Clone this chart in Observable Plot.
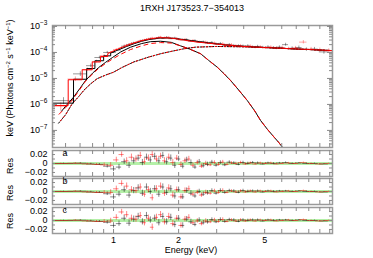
<!DOCTYPE html>
<html><head><meta charset="utf-8">
<script src="https://cdn.jsdelivr.net/npm/d3@7"></script>
<script src="https://cdn.jsdelivr.net/npm/@observablehq/plot@0.6"></script>
<style>
body{margin:0;background:#fff;}
#c{position:relative;width:373px;height:258px;font-family:"Liberation Sans",Arial,sans-serif;overflow:hidden;background:#fff;}
#c svg{position:absolute;left:0;}
.lbl{position:absolute;font-size:9px;white-space:nowrap;color:#000;line-height:1;}
.rot{transform:translate(-50%,-50%) rotate(-90deg);}
.ctr{transform:translate(-50%,-50%);}
sup{font-size:6px;vertical-align:0;position:relative;top:-3.5px;}
</style></head><body><div id="c"></div>
<script>
// ---------- tick values ----------
const xTickVals = [0.6,0.7,0.8,0.9,1,2,3,4,5,6,7,8,9,10];
const xLabelVals = [1,2,5];
const yMajor = [1e-7,1e-6,1e-5,1e-4,1e-3];
const yMinorMult = [2,3,4,5,6,7,8,9];
const resTicks = [-0.02,-0.01,0,0.01,0.02];
const resLabels = [-0.02,0,0.02];
const panelLetters = ["a","b","c"];

// ---------- black dataset ----------
const blackE = [0.587,0.702,0.785,0.86,0.935,
  1.0,1.06,1.12,1.18,1.24,
  1.30,1.36,1.42,1.48,1.55,
  1.62,1.69,1.76,1.84,1.92,
  2.0,2.09,2.18,2.28,2.38,
  2.49,2.6,2.72,2.85,2.98,
  3.12,3.27,3.43,3.6,3.78,
  3.97,4.18,4.4,4.64,4.9,
  5.18,5.5,5.85,6.25,6.7,
  7.2,7.8,8.5,9.4];
const blackHW = [0.066,0.049,0.035,0.04,0.035,
  0.03,0.03,0.03,0.03,0.03,
  0.03,0.03,0.03,0.03,0.035,
  0.035,0.035,0.04,0.04,0.04,
  0.045,0.045,0.05,0.05,0.05,
  0.055,0.055,0.06,0.065,0.065,
  0.07,0.075,0.08,0.085,0.09,
  0.1,0.11,0.11,0.12,0.13,
  0.15,0.16,0.18,0.2,0.22,
  0.25,0.3,0.35,0.45];
const blackV = [1.4e-6,1.5e-5,3.1e-5,6.4e-5,1.0e-4,
  1.0e-4,1.25e-4,1.75e-4,2.0e-4,2.3e-4,
  2.5e-4,2.85e-4,3.1e-4,3.3e-4,3.3e-4,
  3.7e-4,3.5e-4,3.8e-4,3.4e-4,3.6e-4,
  3.2e-4,3.05e-4,3.1e-4,2.7e-4,2.85e-4,
  2.5e-4,2.55e-4,2.3e-4,2.4e-4,2.1e-4,
  2.2e-4,1.9e-4,2.0e-4,1.85e-4,1.8e-4,
  1.75e-4,1.8e-4,1.6e-4,1.7e-4,1.55e-4,
  1.62e-4,1.5e-4,1.6e-4,2.0e-4,1.45e-4,
  1.55e-4,1.3e-4,1.35e-4,1.05e-4];
const blackErr = [0.3,0.2,0.15,0.12,0.1,
  0.09,0.09,0.08,0.08,0.08,
  0.07,0.07,0.07,0.07,0.07,
  0.07,0.07,0.07,0.07,0.07,
  0.07,0.07,0.08,0.08,0.08,
  0.08,0.08,0.09,0.09,0.09,
  0.09,0.1,0.1,0.1,0.1,
  0.1,0.1,0.11,0.11,0.11,
  0.12,0.12,0.12,0.13,0.13,
  0.14,0.15,0.16,0.18];
const blackResErr = [0.0008,0.0012,0.0015,0.002,0.004,
  0.006,0.006,0.006,0.007,0.007,
  0.007,0.007,0.007,0.007,0.007,
  0.007,0.007,0.007,0.007,0.007,
  0.006,0.006,0.006,0.006,0.005,
  0.005,0.005,0.005,0.004,0.004,
  0.004,0.004,0.003,0.003,0.003,
  0.003,0.003,0.0025,0.0025,0.002,
  0.002,0.002,0.0015,0.0015,0.0015,
  0.0012,0.0012,0.001,0.001];
const blackResA = [0.0,0.0005,-0.001,-0.002,-0.006,
  -0.012,-0.008,0.004,-0.004,0.006,
  0.012,0.002,0.014,0.008,0.016,
  0.006,0.018,0.004,0.012,-0.004,
  0.01,-0.006,0.008,0.002,-0.008,
  0.004,-0.005,-0.002,0.003,-0.004,
  0.002,-0.003,0.003,0.001,-0.002,
  0.002,0.0,0.002,0.001,-0.001,
  0.001,0.0,0.001,0.002,0.0,
  0.001,0.0,0.0,-0.001];
const blackResB = [0.0,0.0005,-0.001,-0.002,-0.005,
  -0.012,-0.006,0.004,-0.008,0.002,
  0.008,-0.004,0.01,0.0,0.006,
  -0.006,0.01,-0.002,0.006,-0.01,
  0.004,-0.012,0.002,-0.004,-0.01,
  0.0,-0.006,-0.003,0.002,-0.004,
  0.002,-0.002,0.002,0.001,-0.002,
  0.002,0.0,0.001,0.001,-0.001,
  0.001,0.0,0.001,0.001,0.0,
  0.001,0.0,0.0,-0.001];
const blackResC = [0.0,0.0005,-0.001,-0.002,-0.004,
  -0.011,-0.007,0.005,-0.006,0.003,
  0.009,-0.003,0.011,0.001,0.005,
  -0.005,0.009,-0.003,0.007,-0.009,
  0.005,-0.011,0.003,-0.003,-0.009,
  0.001,-0.005,-0.003,0.002,-0.003,
  0.002,-0.002,0.002,0.001,-0.002,
  0.001,0.0,0.001,0.001,-0.001,
  0.001,0.0,0.001,0.001,0.0,
  0.001,0.0,0.0,-0.001];

// ---------- red dataset ----------
const redE = [0.57,0.666,0.756,0.834,0.905,
  0.97,1.03,1.09,1.15,1.21,
  1.27,1.33,1.39,1.45,1.51,
  1.58,1.65,1.72,1.8,1.88,
  1.96,2.05,2.14,2.23,2.33,
  2.44,2.55,2.67,2.8,2.93,
  3.06,3.2,3.35,3.51,3.68,
  3.87,4.07,4.29,4.52,4.77,
  5.04,5.34,5.67,6.03,6.45,
  6.95,7.55,8.2,9.0,9.9];
const redHW = [0.048,0.05,0.04,0.037,0.035,
  0.03,0.03,0.03,0.03,0.03,
  0.03,0.03,0.03,0.03,0.03,
  0.035,0.035,0.035,0.04,0.04,
  0.04,0.045,0.045,0.045,0.05,
  0.055,0.055,0.06,0.065,0.065,
  0.065,0.07,0.075,0.08,0.085,
  0.095,0.1,0.11,0.115,0.125,
  0.135,0.15,0.165,0.18,0.2,
  0.25,0.3,0.32,0.4,0.45];
const redV = [8.5e-7,9.5e-6,2.2e-5,4.5e-5,7.5e-5,
  1.0e-4,1.3e-4,1.5e-4,1.9e-4,2.2e-4,
  2.4e-4,2.8e-4,3.0e-4,3.3e-4,3.6e-4,
  3.5e-4,3.9e-4,3.6e-4,3.8e-4,3.4e-4,
  3.5e-4,3.0e-4,3.2e-4,2.8e-4,2.9e-4,
  2.6e-4,2.45e-4,2.5e-4,2.25e-4,2.3e-4,
  2.05e-4,2.15e-4,1.9e-4,2.0e-4,1.8e-4,
  1.85e-4,1.65e-4,1.75e-4,1.55e-4,1.65e-4,
  1.5e-4,1.6e-4,1.45e-4,1.55e-4,1.4e-4,
  1.5e-4,2.5e-4,1.35e-4,1.25e-4,1.15e-4];
const redErr = [0.35,0.2,0.15,0.12,0.1,
  0.09,0.09,0.08,0.08,0.08,
  0.07,0.07,0.07,0.07,0.07,
  0.07,0.07,0.07,0.07,0.07,
  0.07,0.07,0.08,0.08,0.08,
  0.08,0.08,0.09,0.09,0.09,
  0.09,0.1,0.1,0.1,0.1,
  0.1,0.1,0.11,0.11,0.11,
  0.12,0.12,0.12,0.13,0.13,
  0.14,0.15,0.16,0.18,0.2];
const redResErr = [0.0008,0.0012,0.0015,0.002,0.004,
  0.006,0.006,0.006,0.007,0.007,
  0.007,0.007,0.007,0.007,0.007,
  0.007,0.007,0.007,0.007,0.007,
  0.006,0.006,0.006,0.006,0.005,
  0.005,0.005,0.005,0.004,0.004,
  0.004,0.004,0.003,0.003,0.003,
  0.003,0.003,0.0025,0.0025,0.002,
  0.002,0.002,0.0015,0.0015,0.0015,
  0.0012,0.0012,0.001,0.001,0.001];
const redResA = [0.0,0.0005,-0.001,-0.002,-0.003,
  -0.004,0.008,0.02,0.006,0.014,
  0.01,0.018,0.004,0.012,0.02,
  0.01,0.016,0.006,0.014,0.002,
  0.012,-0.002,0.006,0.01,-0.004,
  0.002,-0.006,0.0,-0.003,0.002,
  -0.002,0.003,-0.002,0.001,0.0,
  0.002,-0.001,0.001,-0.001,0.001,
  0.0,0.001,-0.001,0.0,0.001,
  0.0,0.002,0.0,-0.001,0.0];
const redResB = [0.0,0.0005,-0.001,-0.002,-0.002,
  -0.002,0.006,0.018,0.012,0.004,
  0.002,0.01,-0.006,0.004,-0.014,
  0.006,0.012,-0.004,0.008,-0.008,
  0.004,-0.012,0.002,0.006,-0.006,
  -0.002,-0.008,-0.002,-0.004,0.001,
  -0.002,0.002,-0.002,0.001,-0.001,
  0.001,-0.001,0.001,-0.001,0.001,
  0.0,0.001,-0.001,0.0,0.001,
  0.0,0.002,0.0,-0.001,0.0];
const redResC = [0.0,0.0005,-0.001,-0.002,-0.002,
  -0.001,0.007,0.019,0.013,0.005,
  0.003,0.011,-0.005,0.005,-0.015,
  0.007,0.013,-0.003,0.009,-0.007,
  0.005,-0.011,0.003,0.007,-0.005,
  -0.001,-0.007,-0.001,-0.003,0.001,
  -0.002,0.002,-0.002,0.001,-0.001,
  0.001,-0.001,0.001,-0.001,0.001,
  0.0,0.001,-0.001,0.0,0.001,
  0.0,0.002,0.0,-0.001,0.0];

// ---------- model curves ----------
const totBlackE = [0.522,0.653,0.653,0.751,0.751,0.82,0.82,0.90,0.90,0.97,0.97,
  1.05,1.15,1.25,1.35,1.45,1.55,1.65,1.8,1.95,2.1,2.3,2.5,2.75,3.0,3.3,3.7,4.2,5,6,7,8,9,10.3];
const totBlackV = [1.12e-6,1.12e-6,9.3e-6,9.3e-6,2.4e-5,2.4e-5,4.8e-5,4.8e-5,7.4e-5,7.4e-5,9.5e-5,
  1.25e-4,1.7e-4,2.2e-4,2.7e-4,3.1e-4,3.4e-4,3.6e-4,3.6e-4,3.4e-4,3.15e-4,2.85e-4,2.6e-4,2.35e-4,2.15e-4,1.95e-4,1.8e-4,1.68e-4,1.55e-4,1.45e-4,1.35e-4,1.3e-4,1.23e-4,1.18e-4];
const totRedE = [0.522,0.617,0.617,0.716,0.716,0.797,0.797,0.87,0.87,0.94,0.94,
  1.0,1.1,1.2,1.3,1.4,1.5,1.6,1.7,1.85,2.0,2.2,2.4,2.7,3.0,3.4,3.8,4.3,5,6,7,8,9,10.3];
const totRedV = [9.1e-7,9.1e-7,8.9e-6,8.9e-6,2.15e-5,2.15e-5,4.3e-5,4.3e-5,7.0e-5,7.0e-5,9.0e-5,
  1.15e-4,1.6e-4,2.1e-4,2.6e-4,3.05e-4,3.4e-4,3.65e-4,3.7e-4,3.55e-4,3.25e-4,2.85e-4,2.55e-4,2.3e-4,2.1e-4,1.9e-4,1.75e-4,1.65e-4,1.55e-4,1.45e-4,1.36e-4,1.3e-4,1.24e-4,1.18e-4];
const bbBlackE = [0.575,0.6,0.653,0.70,0.742,0.80,0.852,0.92,0.989,1.08,1.2,1.35,1.48,1.65,1.85,2.04,2.25,2.53,2.75,3.02,3.25,3.48,3.8,4.16,4.5,4.79,5.15,5.53,5.8,6.03,6.3];
const bbBlackV = [5.5e-7,8.5e-7,1.9e-6,4.2e-6,8.3e-6,1.6e-5,2.6e-5,4.2e-5,6.4e-5,1.05e-4,1.6e-4,2.2e-4,2.6e-4,2.7e-4,2.45e-4,1.8e-4,1.35e-4,8.9e-5,5e-5,2.7e-5,1.5e-5,8.3e-6,3.5e-6,1.4e-6,5.6e-7,2.4e-7,1.1e-7,5.5e-8,3.5e-8,2.3e-8,1.4e-8];
const bbRedE = [0.56,0.6,0.653,0.70,0.742,0.80,0.852,0.92,0.989,1.08,1.2,1.35,1.48,1.65,1.85,2.04,2.25,2.53,2.75,3.02,3.25,3.48,3.8,4.16,4.5,4.79,5.15,5.53,5.8,6.03,6.3];
const bbRedV = [4.2e-7,7.5e-7,1.7e-6,3.9e-6,7.8e-6,1.5e-5,2.4e-5,3.8e-5,5.6e-5,8.5e-5,1.3e-4,1.8e-4,2.2e-4,2.4e-4,2.3e-4,1.8e-4,1.35e-4,8.9e-5,5e-5,2.7e-5,1.5e-5,8.3e-6,3.5e-6,1.4e-6,5.6e-7,2.4e-7,1.1e-7,5.5e-8,3.5e-8,2.3e-8,1.4e-8];
const plE = [0.557,0.6,0.644,0.69,0.729,0.78,0.84,0.92,1.0,1.1,1.24,1.45,1.65,1.85,2.11,2.4,3,4,5,6,7,8,9,10.3];
const plV = [1.9e-7,4e-7,1.07e-6,2.0e-6,3.5e-6,6e-6,9.8e-6,1.35e-5,1.74e-5,2.7e-5,4.3e-5,6.6e-5,8.9e-5,1.1e-4,1.38e-4,1.6e-4,1.7e-4,1.65e-4,1.55e-4,1.45e-4,1.36e-4,1.3e-4,1.24e-4,1.18e-4];

// ---------- layout ----------
const FONT = "Liberation Sans, Arial, sans-serif";
const W = 373, ML = 52, MR = 41, FW = W - ML - MR;
const xDomain = [0.522, 10.3];
const yDomain = [2.2e-8, 1.09e-3];
const resDomain = [-0.029, 0.029];
const FRAME = "#9a9a9a", TICK = "#8a8a8a";

const pts = (E, V) => E.map((e, i) => ({e, v: V[i]}));
const dataRows = (E, HW, V, Er) => E.map((e, i) => ({e, x1: e - HW[i], x2: e + HW[i], v: V[i], lo: V[i] * (1 - Er[i]), hi: V[i] * (1 + Er[i])}));
const resRows = (E, HW, R, Er) => E.map((e, i) => ({e, x1: e - HW[i], x2: e + HW[i], v: R[i], lo: R[i] - Er[i], hi: R[i] + Er[i]}));

function cross(rows, color, op) {
  return [
    Plot.ruleY(rows, {y: "v", x1: "x1", x2: "x2", stroke: color, strokeOpacity: op, strokeWidth: 0.8, clip: true}),
    Plot.ruleX(rows, {x: "e", y1: "lo", y2: "hi", stroke: color, strokeOpacity: op, strokeWidth: 0.8, clip: true})
  ];
}
function xTickMarks(fh) {
  return [
    Plot.tickX(xTickVals, {x: d => d, stroke: TICK, insetBottom: fh - 4}),
    Plot.tickX(xTickVals, {x: d => d, stroke: TICK, insetTop: fh - 4})
  ];
}
function yTickMarks(vals, len) {
  return [
    Plot.tickY(vals, {y: d => d, stroke: TICK, insetRight: FW - len}),
    Plot.tickY(vals, {y: d => d, stroke: TICK, insetLeft: FW - len})
  ];
}

const container = document.getElementById("c");
function place(svg, top) { svg.style.top = top + "px"; container.appendChild(svg); }
function label(html, x, y, cls) {
  const d = document.createElement("div");
  d.className = "lbl " + cls;
  d.style.left = x + "px"; d.style.top = y + "px";
  d.innerHTML = html;
  container.appendChild(d);
}

// ---------- main panel ----------
const yMinor = [];
for (const m of [1e-8, 1e-7, 1e-6, 1e-5, 1e-4]) for (const k of yMinorMult) {
  const v = m * k; if (v >= yDomain[0] && v <= yDomain[1]) yMinor.push(v);
}
const mainFH = 122;
const main = Plot.plot({
  width: W, height: 150, marginLeft: ML, marginRight: MR, marginTop: 25, marginBottom: 3,
  style: {fontSize: "9px", fontFamily: FONT, background: "transparent", color: "#000"},
  x: {type: "log", domain: xDomain, axis: null},
  y: {type: "log", domain: yDomain, axis: null},
  marks: [
    ...cross(dataRows(blackE, blackHW, blackV, blackErr), "#000", 0.5),
    ...cross(dataRows(redE, redHW, redV, redErr), "#ff0000", 0.45),
    Plot.line(pts(plE, plV), {x: "e", y: "v", stroke: "#000", strokeWidth: 1, strokeDasharray: "1.5,1.5", clip: true}),
    Plot.line(pts(plE, plV), {x: "e", y: "v", stroke: "#ff0000", strokeWidth: 1, strokeDasharray: "1.5,3", strokeDashoffset: 1.5, clip: true}),
    Plot.line(pts(bbBlackE, bbBlackV), {x: "e", y: "v", stroke: "#000", strokeWidth: 1, clip: true}),
    Plot.line(pts(bbRedE, bbRedV), {x: "e", y: "v", stroke: "#ff0000", strokeWidth: 1, strokeDasharray: "4,4", clip: true}),
    Plot.line(pts(totBlackE, totBlackV), {x: "e", y: "v", stroke: "#000", strokeWidth: 1, clip: true}),
    Plot.line(pts(totRedE, totRedV), {x: "e", y: "v", stroke: "#ff0000", strokeWidth: 1, clip: true}),
    Plot.frame({stroke: FRAME, strokeWidth: 1.5}),
    ...xTickMarks(mainFH),
    ...yTickMarks(yMajor, 5),
    ...yTickMarks(yMinor, 3),
    Plot.axisY(yMajor, {anchor: "left", tickSize: 0, tickPadding: 5, tickFormat: d => "10^" + Math.round(Math.log10(d))})
  ]
});
// superscript exponents
main.querySelectorAll('g[aria-label="y-axis tick label"] text').forEach(t => {
  const s = t.textContent; const parts = s.split("^");
  if (parts.length !== 2) return;
  t.textContent = parts[0];
  const ts = document.createElementNS("http://www.w3.org/2000/svg", "tspan");
  ts.setAttribute("dy", "-4"); ts.setAttribute("font-size", "6.5");
  ts.textContent = parts[1].replace("-", "\u2212");
  t.appendChild(ts);
});
place(main, 0);

// ---------- residual panels ----------
const resSets = [
  [blackResA, redResA], [blackResB, redResB], [blackResC, redResC]
];
const panelTops = [148, 176, 204];
resSets.forEach(([rb, rr], i) => {
  const last = i === 2;
  const mt = last ? 3 : 2, fh = 26, h = last ? 54 : 30;
  const marks = [
    Plot.ruleY([0], {stroke: "#b4f0a8", strokeWidth: 3}),
    ...cross(resRows(blackE, blackHW, rb, blackResErr), "#000", 0.6),
    ...cross(resRows(redE, redHW, rr, redResErr), "#ff0000", 0.6),
    Plot.frame({stroke: FRAME, strokeWidth: 1.5}),
    ...xTickMarks(fh),
    ...yTickMarks(resTicks, 3),
    Plot.axisY(resLabels, {anchor: "left", tickSize: 0, tickPadding: 5, tickFormat: d => d === 0 ? "0" : (d < 0 ? "\u2212" : "") + Math.abs(d).toFixed(2)}),
    Plot.text([panelLetters[i]], {text: d => d, frameAnchor: "top-left", dx: 10, dy: -1, lineAnchor: "top", fontSize: 9})
  ];
  if (last) marks.push(Plot.text(xLabelVals, {x: d => d, text: d => String(d), frameAnchor: "bottom", lineAnchor: "top", dy: 3, fontSize: 9}));
  const p = Plot.plot({
    width: W, height: h, marginLeft: ML, marginRight: MR, marginTop: mt, marginBottom: h - mt - fh,
    style: {fontSize: "9px", fontFamily: FONT, background: "transparent", color: "#000", overflow: "visible"},
    x: {type: "log", domain: xDomain, axis: null},
    y: {domain: resDomain, axis: null},
    marks
  });
  place(p, panelTops[i]);
});

// ---------- texts ----------
label("1RXH J173523.7\u2212354013", 192, 8, "ctr");
label("Energy (keV)", 191, 250, "ctr");
label("keV (Photons cm<sup>\u22122</sup> s<sup>\u22121</sup> keV<sup>\u22121</sup>)", 10, 78, "rot");
label("Res", 10, 166, "rot");
label("Res", 10, 193, "rot");
label("Res", 10, 221, "rot");
</script></body></html>
